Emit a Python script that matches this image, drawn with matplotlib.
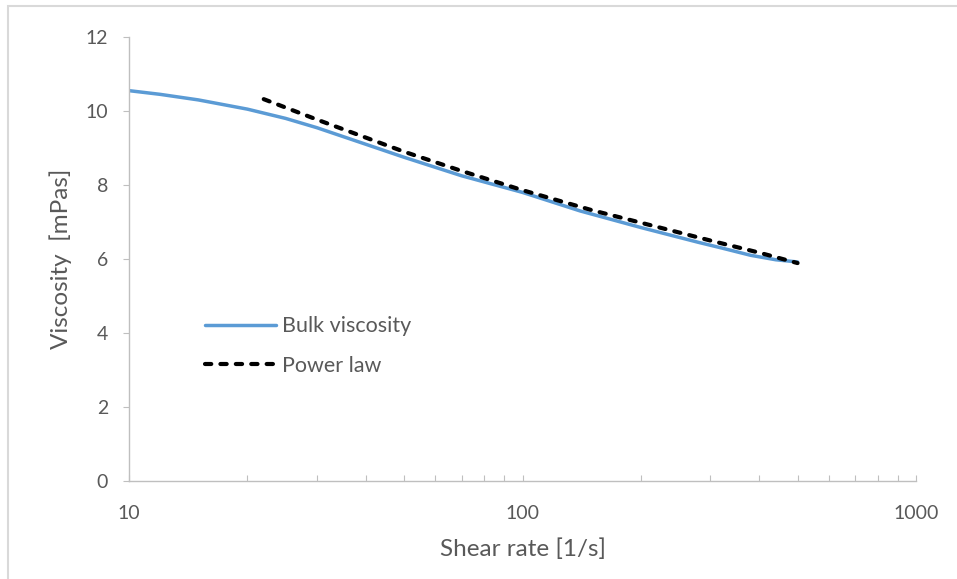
import matplotlib.pyplot as plt
from matplotlib.patches import Rectangle
from matplotlib.ticker import LogLocator, NullFormatter, FixedLocator

# Data

bulk_shear_rate = [10, 12, 15, 20, 25, 30, 40, 50, 70, 100, 140, 200, 280, 320, 380, 440, 500]
bulk_viscosity = [10.55, 10.45, 10.3, 10.05, 9.8, 9.55, 9.1, 8.75, 8.25, 7.8, 7.3, 6.85, 6.45, 6.3, 6.1, 5.98, 5.92]

power_shear_rate = [22, 30, 40, 50, 70, 100, 150, 200, 300, 400, 500]
power_viscosity = [10.32, 9.77, 9.28, 8.9, 8.38, 7.86, 7.32, 6.98, 6.5, 6.17, 5.89]

x_ticks = [10, 100, 1000]
y_ticks = [0, 2, 4, 6, 8, 10, 12]

plt.rcParams["font.family"] = ["Lato", "DejaVu Sans"]

text_color = "#595959"
axis_color = "#BFBFBF"

fig = plt.figure(figsize=(9.57, 5.79), dpi=100)
ax = fig.add_axes([129 / 957, 1 - 481 / 579, 787 / 957, 444 / 579])

ax.plot(bulk_shear_rate, bulk_viscosity, color="#5B9BD5", linewidth=2.5,
        solid_capstyle="round", label="Bulk viscosity")
ax.plot(power_shear_rate, power_viscosity, color="black", linewidth=3,
        dashes=(1.5, 2.2), dash_capstyle="round", label="Power law")

ax.set_xscale("log")
ax.set_xlim(10, 1000)
ax.set_ylim(0, 12)

ax.xaxis.set_major_locator(FixedLocator(x_ticks))
ax.set_xticklabels([str(t) for t in x_ticks])
ax.xaxis.set_minor_locator(LogLocator(base=10, subs=range(2, 10)))
ax.xaxis.set_minor_formatter(NullFormatter())
ax.set_yticks(y_ticks)

# spines and ticks
for side in ["top", "right"]:
    ax.spines[side].set_visible(False)
for side in ["left", "bottom"]:
    ax.spines[side].set_color(axis_color)
    ax.spines[side].set_linewidth(1.0)

ax.tick_params(axis="x", which="both", direction="in", length=4, width=0.8,
               color=axis_color, labelcolor=text_color, labelsize=14, pad=17)
ax.tick_params(axis="y", which="major", direction="out", length=4, width=0.8,
               color=axis_color, labelcolor=text_color, labelsize=14, pad=11)

ax.set_xlabel("Shear rate [1/s]", fontsize=17.5, color=text_color, labelpad=12)
ax.set_ylabel("Viscosity  [mPas]", fontsize=17.5, color=text_color, labelpad=10)

ax.legend(loc="center left", bbox_to_anchor=((205 - 129) / 787, (481 - 346) / 444),
          frameon=False, fontsize=15.5, labelcolor=text_color, borderpad=0,
          borderaxespad=0, handlelength=3.3, handletextpad=0.3, labelspacing=0.9)

# light outer frame around the chart area
fig.patches.append(Rectangle((8 / 957, -0.1), 1.1, 0.1 + 1 - 6 / 579,
                             transform=fig.transFigure, fill=False,
                             edgecolor="#D9D9D9", linewidth=1.5))

fig.savefig("out.png", dpi=100)
